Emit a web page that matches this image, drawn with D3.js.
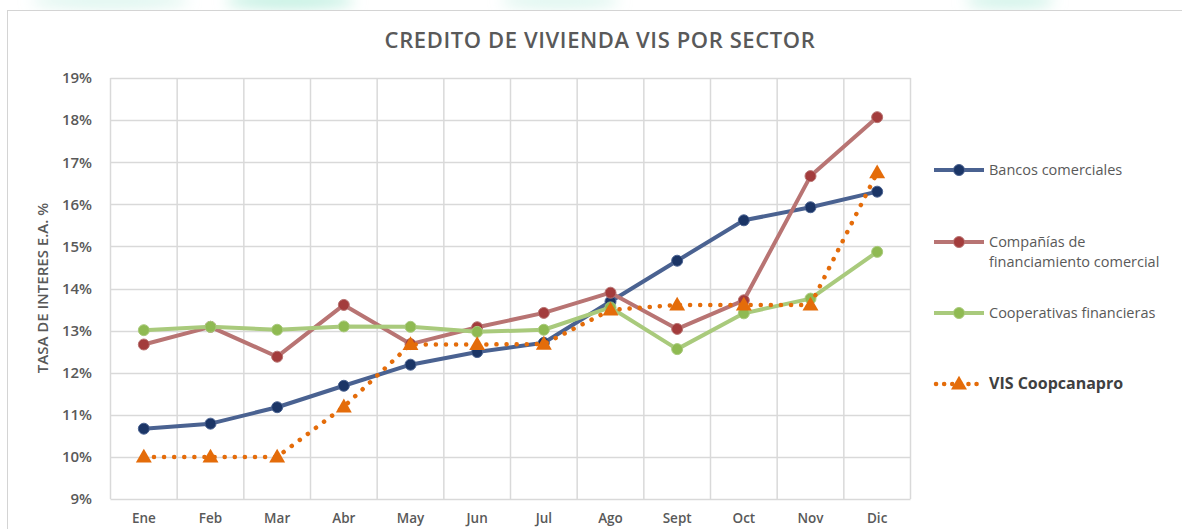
<!DOCTYPE html>
<html>
<head>
<meta charset="utf-8">
<script src="https://cdn.jsdelivr.net/npm/d3@7"></script>
<style>
  body { margin: 0; background: #fff; }
  svg { display: block; font-family: "Open Sans", sans-serif; }
</style>
</head>
<body>
<svg id="chart" width="1182" height="529"></svg>
<script>
const months = ["Ene", "Feb", "Mar", "Abr", "May", "Jun", "Jul", "Ago", "Sept", "Oct", "Nov", "Dic"];
const bancos = [10.67, 10.79, 11.18, 11.69, 12.19, 12.49, 12.71, 13.69, 14.66, 15.62, 15.93, 16.3];
const companias = [12.67, 13.09, 12.38, 13.61, 12.68, 13.08, 13.42, 13.9, 13.04, 13.72, 16.67, 18.07];
const cooperativas = [13.01, 13.09, 13.02, 13.1, 13.09, 12.97, 13.02, 13.55, 12.56, 13.41, 13.76, 14.87];
const coopcanapro = [10.0, 10.0, 10.0, 11.19, 12.67, 12.67, 12.68, 13.49, 13.61, 13.61, 13.61, 16.75];
const yTicks = [9, 10, 11, 12, 13, 14, 15, 16, 17, 18, 19];

const series = [
  { name: ["Bancos comerciales"], values: bancos, line: "#4a6291", mark: "#1b3566", type: "circle" },
  { name: ["Compañías de", "financiamiento comercial"], values: companias, line: "#b87473", mark: "#a33c3c", type: "circle" },
  { name: ["Cooperativas financieras"], values: cooperativas, line: "#a9ca7c", mark: "#8fba52", type: "circle" },
  { name: ["VIS Coopcanapro"], values: coopcanapro, line: "#e46c0a", mark: "#e46c0a", type: "triangle" }
];

const font = "'Open Sans', sans-serif";
const svg = d3.select("#chart");

// blurred backdrop strip above the chart box
const defs = svg.append("defs");
defs.append("filter").attr("id", "blur")
  .append("feGaussianBlur").attr("stdDeviation", 7);
const bg = svg.append("g").attr("filter", "url(#blur)");
[[110, 160, 0.5], [290, 130, 0.9], [560, 120, 0.5], [1010, 90, 0.7]].forEach(([cx, rx, o]) => {
  bg.append("ellipse").attr("cx", cx).attr("cy", 1).attr("rx", rx / 2).attr("ry", 8)
    .attr("fill", "#bdeedf").attr("opacity", o);
});

svg.append("rect")
  .attr("x", 7.5).attr("y", 10.5).attr("width", 1190).attr("height", 530)
  .attr("fill", "#fff").attr("stroke", "#d4d4d4");

const x = d3.scaleBand().domain(months).range([110.5, 910.5]);
const y = d3.scaleLinear().domain([9, 19]).range([499, 78]);
const cx = (i) => x(months[i]) + x.bandwidth() / 2;

// gridlines
const grid = svg.append("g");
grid.selectAll("line.h").data(yTicks).enter().append("line")
  .attr("x1", 110.5).attr("x2", 910.5)
  .attr("y1", (d) => Math.round(y(d)) + 0.5).attr("y2", (d) => Math.round(y(d)) + 0.5)
  .attr("stroke", "#d9d9d9").attr("stroke-width", 1.5);
grid.selectAll("line.v").data(d3.range(months.length + 1)).enter().append("line")
  .attr("x1", (i) => 110.5 + i * x.bandwidth()).attr("x2", (i) => 110.5 + i * x.bandwidth())
  .attr("y1", y(19)).attr("y2", y(9))
  .attr("stroke", "#d9d9d9").attr("stroke-width", 1.5);

// axes
const yAxis = svg.append("g").attr("transform", "translate(110,0)")
  .call(d3.axisLeft(y).tickValues(yTicks).tickFormat((d) => d + "%").tickSize(0).tickPadding(18));
const xAxis = svg.append("g").attr("transform", `translate(0,${y(9)})`)
  .call(d3.axisBottom(x).tickSize(0).tickPadding(14));
[yAxis, xAxis].forEach((a) => {
  a.attr("font-family", font);
  a.select(".domain").remove();
  a.selectAll("text").attr("fill", "#595959").style("font-weight", 600);
});
yAxis.selectAll("text").style("font-size", "15px");
xAxis.selectAll("text").style("font-size", "13.5px");

svg.append("text")
  .attr("transform", "translate(48,288) rotate(-90)")
  .attr("text-anchor", "middle")
  .attr("fill", "#595959").style("font-size", "15px").style("font-weight", 600)
  .text("TASA DE INTERES E.A. %");

svg.append("text")
  .attr("x", 600).attr("y", 48).attr("text-anchor", "middle")
  .attr("fill", "#595959").style("font-size", "22px").style("font-weight", 600)
  .style("letter-spacing", "0.6px")
  .text("CREDITO DE VIVIENDA VIS POR SECTOR");

const line = d3.line().x((d, i) => cx(i)).y((d) => y(d));
const tri = d3.symbol().type(d3.symbolTriangle).size(110);

function drawMarker(g, s, px, py) {
  if (s.type === "circle") {
    g.append("circle").attr("cx", px).attr("cy", py).attr("r", 5.5)
      .attr("fill", s.mark).attr("stroke", s.line).attr("stroke-width", 1);
  } else {
    g.append("path").attr("d", tri).attr("transform", `translate(${px},${py + 1})`)
      .attr("fill", s.mark);
  }
}

series.forEach((s) => {
  const g = svg.append("g");
  const p = g.append("path").datum(s.values).attr("d", line)
    .attr("fill", "none").attr("stroke", s.line).attr("stroke-width", 4)
    .attr("stroke-linejoin", "round");
  if (s.type === "triangle") {
    p.attr("stroke-dasharray", "0.1 10").attr("stroke-linecap", "round").attr("stroke-width", 4.5);
  }
  s.values.forEach((v, i) => drawMarker(g, s, cx(i), y(v)));
});

// legend
const legendY = [170, 242, 313, 384];
series.forEach((s, k) => {
  const g = svg.append("g");
  const ly = legendY[k];
  const l = g.append("line").attr("x1", 934).attr("x2", 984).attr("y1", ly).attr("y2", ly)
    .attr("stroke", s.line).attr("stroke-width", 4);
  if (s.type === "triangle") {
    l.attr("stroke-dasharray", "0.1 8").attr("stroke-linecap", "round").attr("stroke-width", 4.5)
      .attr("x1", 936).attr("x2", 982);
  }
  drawMarker(g, s, 959, ly);
  const bold = s.type === "triangle";
  const t = g.append("text").attr("x", 989).attr("y", ly + 5)
    .attr("fill", bold ? "#404040" : "#595959")
    .style("font-size", bold ? "16px" : "14.5px")
    .style("font-weight", bold ? 700 : 400);
  s.name.forEach((n, j) => {
    t.append("tspan").attr("x", 989).attr("dy", j === 0 ? 0 : 20).text(n);
  });
});
</script>
</body>
</html>
